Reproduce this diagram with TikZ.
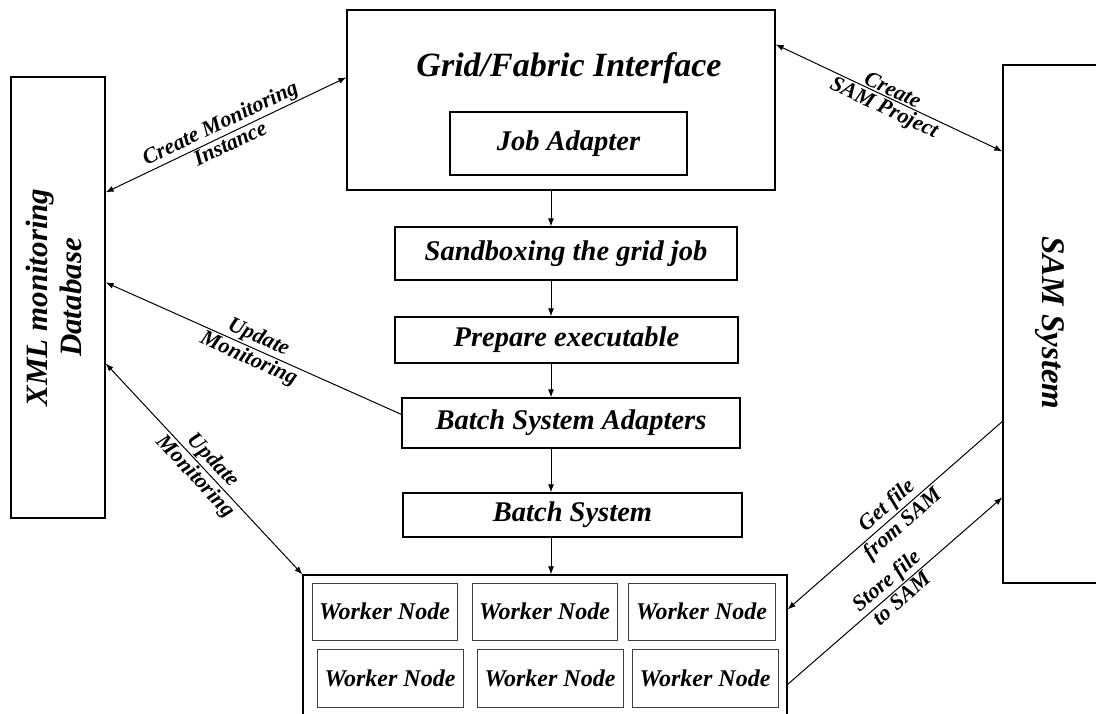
\documentclass[tikz,border=0pt]{standalone}
\usepackage{fontspec}
\setmainfont{Liberation Serif}
\usetikzlibrary{arrows.meta}

\tikzset{
  box/.style={draw, line width=1.2pt, inner sep=0pt,
    font=\bfseries\itshape\fontsize{28.5}{30}\selectfont},
  worker/.style={draw=black!75, line width=1pt, inner sep=0pt,
    minimum width=145pt, minimum height=57pt,
    font=\bfseries\itshape\fontsize{24}{26}\selectfont},
  lbl/.style={sloped, inner sep=1.5pt, midway,
    font=\bfseries\itshape\fontsize{22}{22}\selectfont},
  link/.style={line width=1pt},
  head/.tip={Latex[length=8pt,width=6pt]},
}

\begin{document}
\begin{tikzpicture}[x=1pt,y=-1pt]
	\clip (0,0) rectangle (1096,713);

	% side boxes
	\node[box, minimum width=94pt, minimum height=441pt, align=center, font=\bfseries\itshape\fontsize{31}{34}\selectfont]
		(xml) at (58,297.5) {\rotatebox{90}{\begin{tabular}{c}XML monitoring\\Database\end{tabular}}};
	\node[box, minimum width=110pt, minimum height=518pt] (sam) at (1058,324) {};
	\node[font=\bfseries\itshape\fontsize{33}{33}\selectfont, rotate=-90] (samtext) at (1050,323) {SAM System};

	% grid interface with the job adapter inside
	\node[box, minimum width=428pt, minimum height=180pt] (grid) at (561,100) {};
	\node[font=\bfseries\itshape\fontsize{34}{34}\selectfont] (gridtitle) at (569,68) {Grid/Fabric Interface};
	\node[box, minimum width=237pt, minimum height=63pt] (jobadapter) at (568.5,143.5) {Job Adapter};

	% the chain down to the batch system
	\node[box, minimum width=342pt, minimum height=53pt] (sandbox) at (566,253.5) {Sandboxing the grid job};
	\node[box, minimum width=343pt, minimum height=46pt] (prepare) at (566.5,340) {Prepare executable};
	\node[box, minimum width=338pt, minimum height=50pt] (adapters) at (571,423) {Batch System Adapters};
	\node[box, minimum width=339pt, minimum height=44pt] (batch) at (572.5,515) {Batch System};

	% worker nodes
	\node[box, minimum width=484pt, minimum height=150pt] (cluster) at (545,650) {};
	\node[worker] (wn1) at (384.5,611.5) {Worker Node};
	\node[worker] (wn2) at (544.5,611.5) {Worker Node};
	\node[worker, minimum width=147pt] (wn3) at (701.5,611.5) {Worker Node};
	\node[worker, minimum width=146pt, minimum height=58pt] (wn4) at (390,678) {Worker Node};
	\node[worker, minimum width=146pt, minimum height=58pt] (wn5) at (550,678) {Worker Node};
	\node[worker, minimum width=146pt, minimum height=58pt] (wn6) at (705,678) {Worker Node};

	% vertical flow
	\coordinate (spine) at (551,0);
	\draw[link, -head] (grid.south -| spine) -- (sandbox.north -| spine);
	\draw[link, -head] (sandbox.south -| spine) -- (prepare.north -| spine);
	\draw[link, -head] (prepare.south -| spine) -- (adapters.north -| spine);
	\draw[link, -head] (adapters.south -| spine) -- (batch.north -| spine);
	\draw[link, -head] (batch.south -| spine) -- (cluster.north -| spine);

	% monitoring
	\draw[link, head-head] ([yshift=-116pt]xml.north east) -- ([yshift=-68pt]grid.north west)
		node[lbl, above] {Create Monitoring} node[lbl, below] {Instance};
	\draw[link, head-] ([yshift=-206pt]xml.north east) -- ([yshift=-17pt]adapters.north west)
		node[lbl, above] {Update} node[lbl, below] {Monitoring};
	\draw[link, head-head] ([yshift=-287pt]xml.north east) -- (cluster.north west)
		node[lbl, above] {Update} node[lbl, below] {Monitoring};

	% SAM
	\draw[link, head-head] ([yshift=-35pt]grid.north east) -- ([yshift=-87pt]sam.north west)
		node[lbl, above] {Create} node[lbl, below] {SAM Project};
	\draw[link, head-] ([yshift=-35pt]cluster.north east) -- ([yshift=-357pt]sam.north west)
		node[lbl, above] {Get file} node[lbl, below] {from SAM};
	\draw[link, -head] ([yshift=-110pt]cluster.north east) -- ([yshift=-433pt]sam.north west)
		node[lbl, above] {Store file} node[lbl, below] {to SAM};
\end{tikzpicture}
\end{document}
